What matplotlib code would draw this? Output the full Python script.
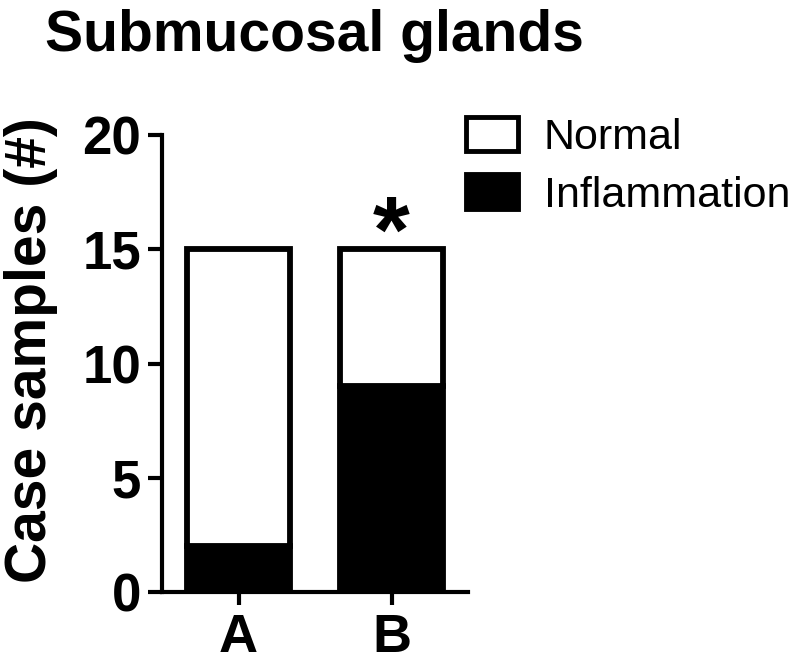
import matplotlib
matplotlib.use("Agg")
import matplotlib.pyplot as plt
from matplotlib.patches import Patch

plt.rcParams["font.family"] = ["Liberation Sans", "DejaVu Sans"]

# data
groups = ["A", "B"]
inflammation = [2, 9]
normal = [13, 6]
total = [i + n for i, n in zip(inflammation, normal)]
yticks = [0, 5, 10, 15, 20]

fig = plt.figure(figsize=(8, 6.69), dpi=100)
ax = fig.add_axes([0.2025, 0.1151, 0.3825, 0.6831])

x = list(range(len(groups)))
bw = 0.67
lw = 4.2
ax.bar(x, inflammation, width=bw, color="black", edgecolor="black", linewidth=lw, zorder=3)
ax.bar(x, normal, bottom=inflammation, width=bw, color="white", edgecolor="black",
       linewidth=lw, zorder=3)

ax.set_xlim(-0.5, 1.5)
ax.set_ylim(0, 20)
ax.set_yticks(yticks)
ax.set_xticks(x)
ax.set_xticklabels(groups)

for side in ["top", "right"]:
    ax.spines[side].set_visible(False)
for side in ["left", "bottom"]:
    ax.spines[side].set_linewidth(3)
    ax.spines[side].set_capstyle("projecting")

ax.tick_params(axis="y", length=10, width=3, pad=5, labelsize=38)
ax.tick_params(axis="x", length=9, width=3, pad=6, labelsize=39)
for lab in ax.get_xticklabels() + ax.get_yticklabels():
    lab.set_fontweight("bold")

# significance mark over B
ax.text(x[1], total[1] - 0.55, "*", ha="center", va="baseline", fontsize=68, fontweight="bold")

fig.text(31.5 / 800, 0.477, "Case samples (#)", rotation=90, ha="center", va="center",
         fontsize=41, fontweight="bold")
fig.text(45 / 800, 0.9238, "Submucosal glands", ha="left", va="baseline",
         fontsize=41, fontweight="bold")

handles = [Patch(facecolor="white", edgecolor="black", linewidth=3.5, label="Normal"),
           Patch(facecolor="black", edgecolor="black", linewidth=3.5, label="Inflammation")]
fig.legend(handles=handles, loc="upper left", bbox_to_anchor=(466 / 800, 1 - 117 / 669),
           frameon=False, fontsize=31, handlelength=1.2, handleheight=0.85,
           handletextpad=0.6, labelspacing=0.38, borderpad=0, borderaxespad=0)

fig.savefig("out.png", dpi=100)
